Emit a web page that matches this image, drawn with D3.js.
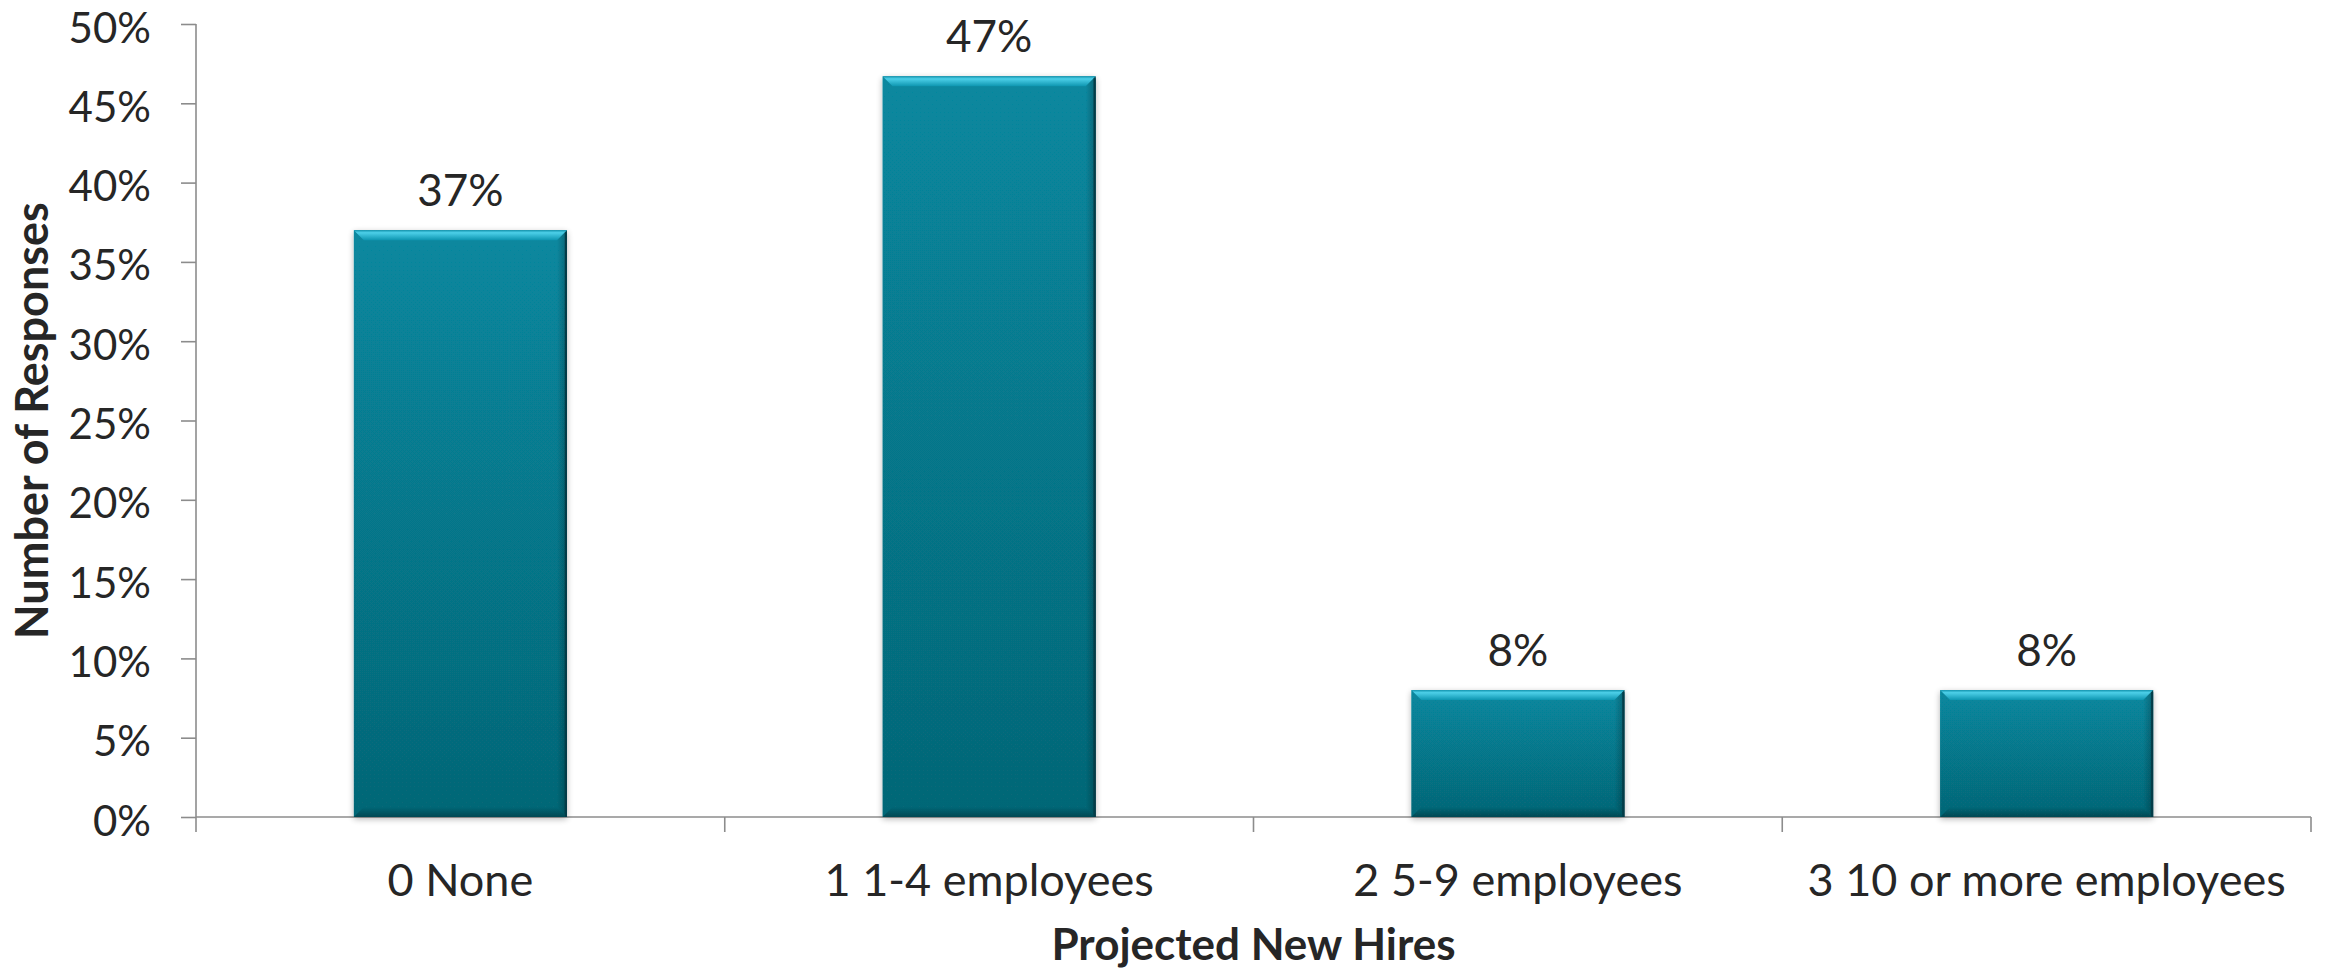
<!DOCTYPE html>
<html><head><meta charset="utf-8">
<script src="https://cdn.jsdelivr.net/npm/d3@7"></script>
<style>
html,body{margin:0;padding:0;background:#fff;}
svg text{font-family:Lato, "Open Sans", sans-serif;fill:#262626;}
</style></head>
<body><svg id="c" width="2330" height="970"></svg>
<script>
const categories = ["0 None", "1 1-4 employees", "2 5-9 employees", "3 10 or more employees"];
const values = [0.37, 0.467, 0.08, 0.08];
const yTicks = [0, 0.05, 0.10, 0.15, 0.20, 0.25, 0.30, 0.35, 0.40, 0.45, 0.50];
const xTitle = "Projected New Hires";
const yTitle = "Number of Responses";

const svg = d3.select("#c");
const pL = 196, pR = 2311, pT = 24, pB = 817;
const x = d3.scaleBand().domain(categories).range([pL, pR]).paddingInner(0).paddingOuter(0);
const y = d3.scaleLinear().domain([0, 0.5]).range([pB, pT]);
const barW = x.bandwidth() * 0.403;

const defs = svg.append("defs");
const g1 = defs.append("linearGradient").attr("id","barGrad").attr("x1",0).attr("y1",0).attr("x2",0).attr("y2",1);
g1.append("stop").attr("offset","0%").attr("stop-color","#07889f");
g1.append("stop").attr("offset","100%").attr("stop-color","#066676");
const gt = defs.append("linearGradient").attr("id","topGrad").attr("x1",0).attr("y1",0).attr("x2",0).attr("y2",1);
gt.append("stop").attr("offset","0%").attr("stop-color","#1596b0");
gt.append("stop").attr("offset","25%").attr("stop-color","#4ccfe8");
gt.append("stop").attr("offset","100%").attr("stop-color","#0d95b0");
const gr = defs.append("linearGradient").attr("id","rGrad").attr("x1",0).attr("y1",0).attr("x2",1).attr("y2",0);
gr.append("stop").attr("offset","0%").attr("stop-color","#000").attr("stop-opacity",0);
gr.append("stop").attr("offset","70%").attr("stop-color","#000").attr("stop-opacity",0.18);
gr.append("stop").attr("offset","100%").attr("stop-color","#000").attr("stop-opacity",0.6);
const gb = defs.append("linearGradient").attr("id","bGrad").attr("x1",0).attr("y1",0).attr("x2",0).attr("y2",1);
gb.append("stop").attr("offset","0%").attr("stop-color","#000").attr("stop-opacity",0);
gb.append("stop").attr("offset","100%").attr("stop-color","#000").attr("stop-opacity",0.3);
const f = defs.append("filter").attr("id","sh").attr("x","-10%").attr("y","-10%").attr("width","120%").attr("height","120%");
f.append("feGaussianBlur").attr("in","SourceAlpha").attr("stdDeviation",3);
f.append("feOffset").attr("dx",0).attr("dy",2).attr("result","b");
f.append("feComponentTransfer").append("feFuncA").attr("type","linear").attr("slope",0.3);
const m = f.append("feMerge"); m.append("feMergeNode"); m.append("feMergeNode").attr("in","SourceGraphic");

// y axis
const yAxis = d3.axisLeft(y).tickValues(yTicks).tickFormat(d3.format(".0%")).tickSize(15).tickPadding(30);
const ya = svg.append("g").attr("transform",`translate(${pL},0)`).call(yAxis);
ya.select(".domain").attr("stroke","#8c8c8c").attr("stroke-width",1.6).attr("d",`M0,${pT}V${pB}`);
ya.selectAll(".tick line").attr("stroke","#8c8c8c").attr("stroke-width",1.6);
ya.selectAll(".tick text").attr("font-size",42).attr("fill","#262626").attr("dy","0.43em");

// x axis
const xa = svg.append("g").attr("transform",`translate(0,${pB})`);
xa.append("line").attr("x1",pL).attr("x2",pR).attr("y1",0).attr("y2",0).attr("stroke","#8c8c8c").attr("stroke-width",1.6);
const bounds = categories.map(c => x(c)).concat([x(categories[categories.length-1]) + x.bandwidth()]);
xa.selectAll("line.bt").data(bounds).join("line").attr("class","bt")
  .attr("x1",d=>d).attr("x2",d=>d).attr("y1",0).attr("y2",15).attr("stroke","#8c8c8c").attr("stroke-width",1.6);
xa.selectAll("text.cl").data(categories).join("text").attr("class","cl")
  .attr("x",d=>x(d)+x.bandwidth()/2).attr("y",79).attr("text-anchor","middle").attr("font-size",45).text(d=>d);

// bars
const bars = svg.append("g").selectAll("g.bar").data(categories.map((c,i)=>({c,v:values[i]}))).join("g").attr("class","bar");
bars.each(function(d){
  const g = d3.select(this);
  const x0 = x(d.c) + (x.bandwidth()-barW)/2, x1 = x0 + barW;
  const y0 = y(d.v), y1 = y(0);
  const b = 10;
  g.append("rect").attr("x",x0).attr("y",y0).attr("width",barW).attr("height",y1-y0).attr("fill","url(#barGrad)").attr("filter","url(#sh)");
  g.append("path").attr("d",`M${x0},${y0}H${x1}L${x1-b},${y0+b}H${x0+b}Z`).attr("fill","url(#topGrad)");
  g.append("path").attr("d",`M${x1},${y0}V${y1}L${x1-b},${y1-b}V${y0+b}Z`).attr("fill","url(#rGrad)");
  g.append("path").attr("d",`M${x0},${y1}H${x1}L${x1-b},${y1-b}H${x0+b}Z`).attr("fill","url(#bGrad)");
  g.append("line").attr("x1",x1-1).attr("x2",x1-1).attr("y1",y0+2).attr("y2",y1).attr("stroke","#033c48").attr("stroke-width",2);
  g.append("text").attr("x",(x0+x1)/2).attr("y",y0-24).attr("text-anchor","middle").attr("font-size",44).text(d3.format(".0%")(d.v));
});

// titles
svg.append("text").attr("x",(pL+pR)/2).attr("y",960).attr("text-anchor","middle").attr("font-size",44).attr("font-weight","bold").text(xTitle);
svg.append("text").attr("transform",`translate(48,${(pT+pB)/2}) rotate(-90)`).attr("text-anchor","middle").attr("font-size",45).attr("font-weight","bold").text(yTitle);
</script></body></html>
